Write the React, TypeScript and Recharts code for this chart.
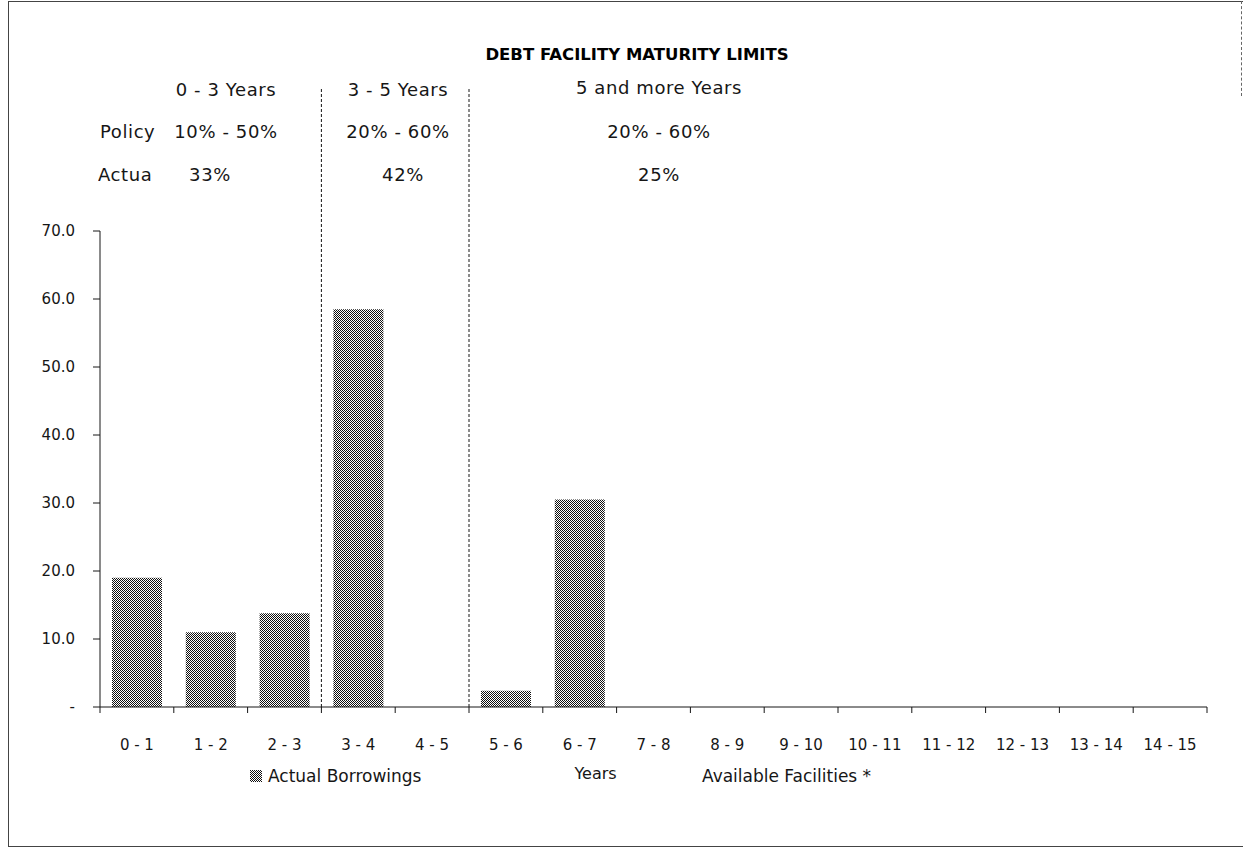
import React from "react";
import { BarChart, Bar, XAxis, YAxis, ReferenceLine, Legend, Label } from "recharts";

// maturity buckets (years)
const years = [
  "0 - 1", "1 - 2", "2 - 3", "3 - 4", "4 - 5", "5 - 6", "6 - 7", "7 - 8",
  "8 - 9", "9 - 10", "10 - 11", "11 - 12", "12 - 13", "13 - 14", "14 - 15",
];
const actualBorrowings = [19.0, 11.0, 13.8, 58.5, 0, 2.4, 30.5, 0, 0, 0, 0, 0, 0, 0, 0];
const availableFacilities = [0, 0, 0, 0, 0, 0, 0, 0, 0, 0, 0, 0, 0, 0, 0];
const yTicks = [0, 10, 20, 30, 40, 50, 60, 70];

// policy bands: dashed split lines sit at the start of these buckets
const bandStarts = ["3 - 4", "5 - 6"];
const bandLineTop = 91;
const groupHeads = ["0 - 3 Years", "3 - 5 Years", "5 and more Years"];
const policyRanges = ["10% - 50%", "20% - 60%", "20% - 60%"];
const actualShares = ["33%", "42%", "25%"];

const data = years.map((year, i) => ({
  year,
  actual: actualBorrowings[i],
  available: availableFacilities[i],
}));

const FONT = "'DejaVu Sans', sans-serif";
const INK = "#161616";

const colX = [226, 398, 659];
const rowY = [90, 132, 175];

const cellText: React.CSSProperties = {
  whiteSpace: "nowrap",
  fontSize: 18,
  letterSpacing: 0.6,
  color: INK,
  fontFamily: FONT,
  lineHeight: "20px",
};

function Cell({ x, y, text }: { x: number; y: number; text: string }) {
  return (
    <div style={{ position: "absolute", left: x, top: y, transform: "translate(-50%,-50%)", ...cellText }}>
      {text}
    </div>
  );
}

// clipped row header, like an Excel cell that runs into a filled neighbour
function RowHead({ x, y, w, text }: { x: number; y: number; w: number; text: string }) {
  return (
    <div style={{ position: "absolute", left: x, top: y - 10, width: w, overflow: "hidden", ...cellText }}>
      {text}
    </div>
  );
}

function YearTick(props: any) {
  const { x, y, payload, index } = props;
  const half = payload?.offset ?? 1107 / 30;
  const last = index === years.length - 1;
  return (
    <g>
      <line x1={x - half} y1={y} x2={x - half} y2={y + 6} stroke={INK} />
      {last && <line x1={x + half} y1={y} x2={x + half} y2={y + 6} stroke={INK} />}
      <text x={x} y={y + 43} textAnchor="middle" fontSize={15} fontFamily={FONT} fill={INK}>
        {payload.value}
      </text>
    </g>
  );
}

const legendLeft = [250, 684];

function LegendContent(props: any) {
  const items = props.payload || [];
  return (
    <div style={{ position: "relative", height: 24 }}>
      {items.map((p: any, i: number) => (
        <div
          key={p.value}
          style={{
            position: "absolute",
            left: legendLeft[i],
            top: 0,
            display: "flex",
            alignItems: "center",
            gap: 6,
            fontSize: 17,
            fontFamily: FONT,
            color: INK,
            whiteSpace: "nowrap",
          }}
        >
          <svg width={12} height={12}>
            <rect width={12} height={12} fill={p.color} />
          </svg>
          <span>{p.value}</span>
        </div>
      ))}
    </div>
  );
}

export default function App() {
  return (
    <div style={{ position: "absolute", left: 0, top: 0, width: 1243, height: 850, background: "#fff", overflow: "hidden" }}>
      {/* scanned page frame */}
      <div style={{ position: "absolute", left: 8, top: 1, width: 1240, height: 844, borderLeft: "1px solid #444", borderTop: "1px solid #444", borderBottom: "1px solid #444" }} />
      <div style={{ position: "absolute", left: 1241, top: 1, width: 0, height: 95, borderLeft: "1px dashed #666" }} />

      <BarChart
        width={1243}
        height={850}
        data={data}
        margin={{ top: 231, right: 36, bottom: 63, left: 40 }}
        barGap={-50}
        style={{ position: "absolute", left: 0, top: 0 }}
      >
        <defs>
          <pattern id="dither" width={2} height={2} patternUnits="userSpaceOnUse">
            <rect width={2} height={2} fill="#fff" />
            <rect width={1} height={1} fill="#111" />
            <rect x={1} y={1} width={1} height={1} fill="#111" />
          </pattern>
        </defs>
        <XAxis
          xAxisId="cat"
          dataKey="year"
          height={80}
          interval={0}
          tickLine={false}
          tickSize={0}
          tickMargin={0}
          axisLine={{ stroke: INK }}
          tick={(p: any) => <YearTick {...p} />}
        >
          <Label value="Years" position="insideBottom" offset={8} dx={-58} style={{ fontSize: 16, fill: INK, fontFamily: FONT }} />
        </XAxis>
        <YAxis
          width={60}
          domain={[0, 70]}
          ticks={yTicks}
          interval={0}
          tickSize={7}
          tickMargin={18}
          axisLine={{ stroke: INK }}
          tickLine={{ stroke: INK }}
          tick={{ fontSize: 15, fill: INK, fontFamily: FONT }}
          tickFormatter={(v: number) => (v === 0 ? "-" : v.toFixed(1))}
        />
        {bandStarts.map((c) => (
          <ReferenceLine
            key={c}
            xAxisId="cat"
            segment={[{ x: c, y: 0 }, { x: c, y: bandLineTop }]}
            position="start"
            stroke={INK}
            strokeDasharray="3 2"
            ifOverflow="visible"
          />
        ))}
        <Bar xAxisId="cat" dataKey="actual" name="Actual Borrowings" fill="url(#dither)" barSize={50} isAnimationActive={false} />
        <Bar xAxisId="cat" dataKey="available" name="Available Facilities *" fill="#fff" barSize={50} isAnimationActive={false} />
        <Legend
          layout="horizontal"
          verticalAlign="middle"
          align="center"
          wrapperStyle={{ left: 0, top: 766, width: 1243 }}
          content={(p: any) => <LegendContent {...p} />}
        />
      </BarChart>

      {/* title and policy table */}
      <div style={{ position: "absolute", left: 637, top: 54, transform: "translate(-50%,-50%)", fontFamily: FONT, fontWeight: 900, fontSize: 16.5, color: "#000", whiteSpace: "nowrap" }}>
        DEBT FACILITY MATURITY LIMITS
      </div>
      {groupHeads.map((t, i) => (
        <Cell key={"g" + i} x={colX[i]} y={rowY[0] - (i === 2 ? 2 : 0)} text={t} />
      ))}
      <RowHead x={100} y={rowY[1]} w={62} text="Policy" />
      {policyRanges.map((t, i) => (
        <Cell key={"p" + i} x={colX[i]} y={rowY[1]} text={t} />
      ))}
      <RowHead x={98} y={rowY[2]} w={54} text="Actual" />
      {actualShares.map((t, i) => (
        <Cell key={"a" + i} x={i === 0 ? 210 : colX[i] + (i === 1 ? 5 : 0)} y={rowY[2]} text={t} />
      ))}
    </div>
  );
}
